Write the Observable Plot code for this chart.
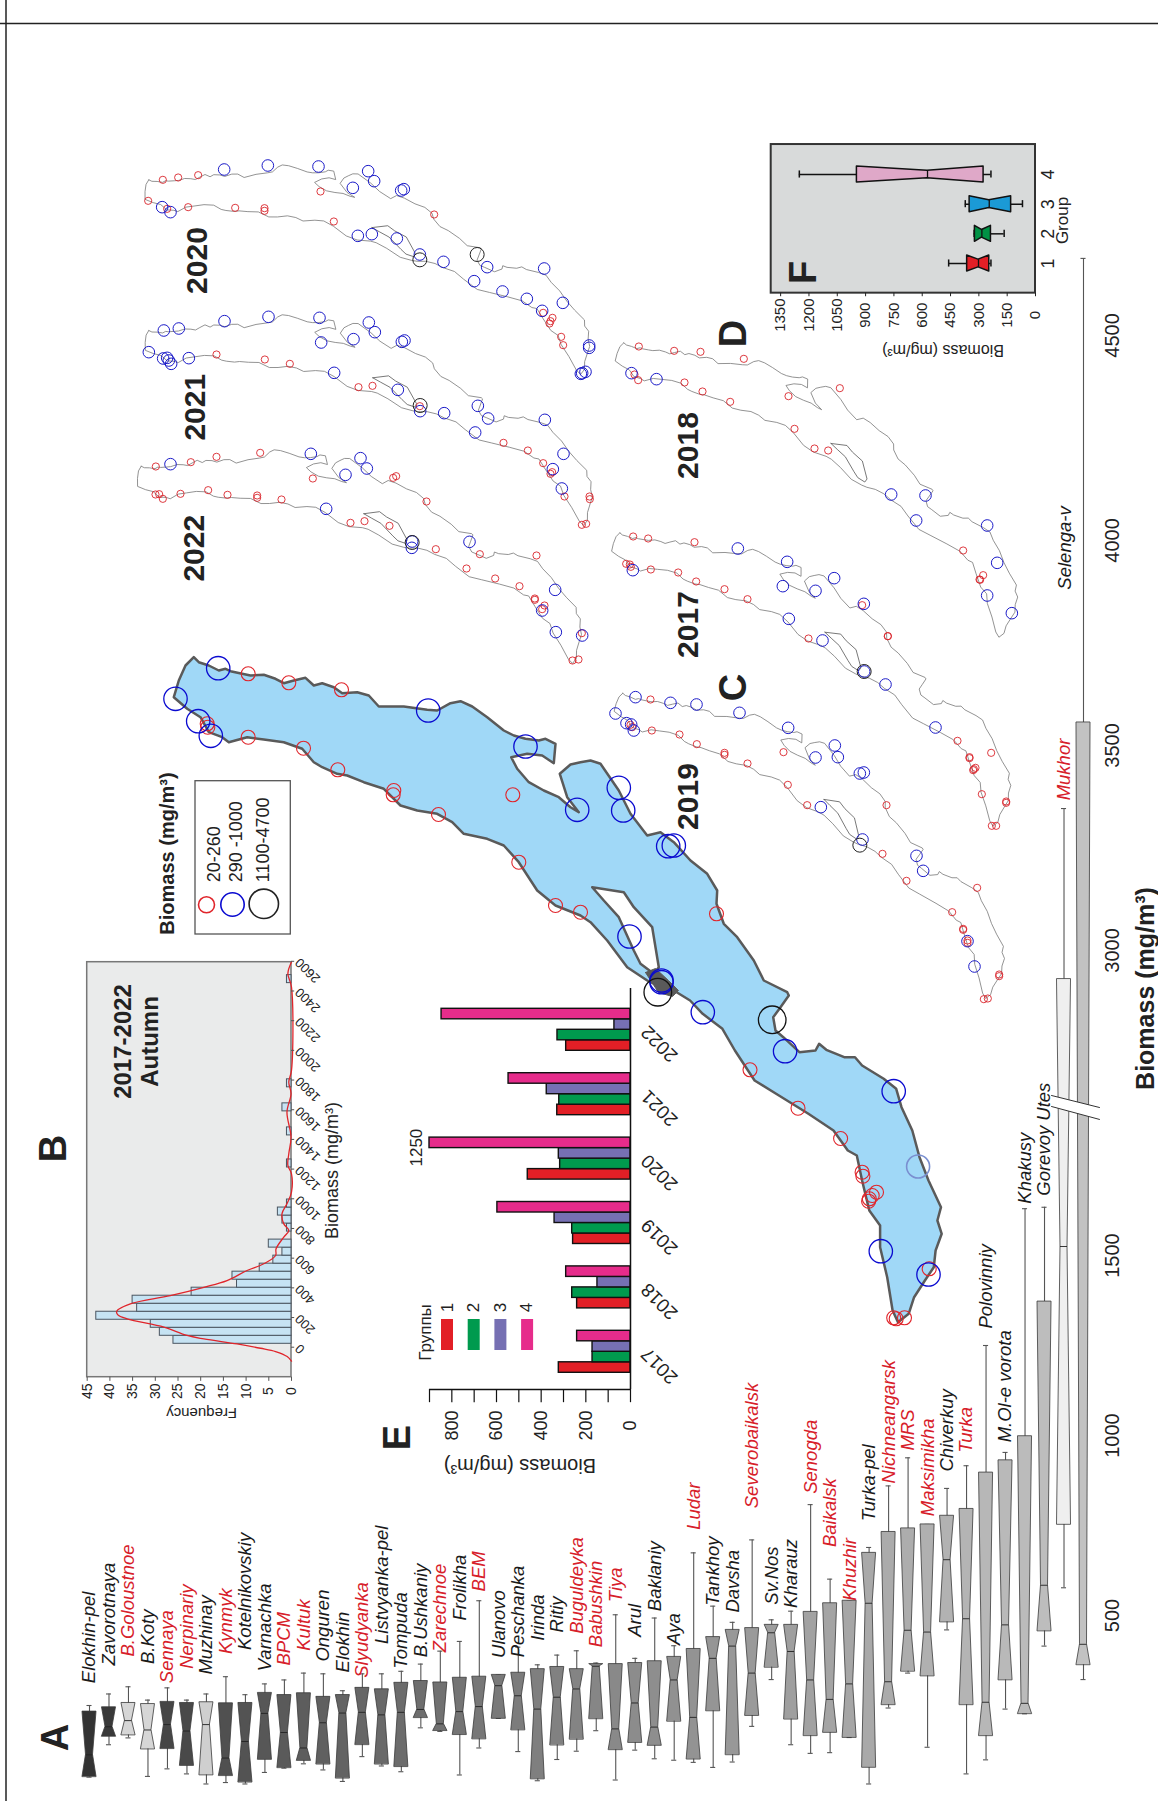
<!DOCTYPE html>
<html><head><meta charset="utf-8">
<script src="https://cdn.jsdelivr.net/npm/d3@7"></script>
<script src="https://cdn.jsdelivr.net/npm/@observablehq/plot@0.6"></script>
<style>html,body{margin:0;padding:0;background:#fff}#page{position:relative;width:1158px;height:1801px;overflow:hidden;background:#fff}#page svg{position:absolute;left:0;top:0;overflow:visible}</style>
</head><body><div id="page"></div>
<script>
// ---------- A: station boxplots ----------
const stations=["Elokhin-pel","Zavorotnaya","B.Goloustnoe","B.Koty","Sennaya","Nerpinariy","Muzhinay","Kynmyk","Kotelnikovskiy","Varnachka","BPCM","Kultuk","Onguren","Elokhin","Slyudyanka","Listvyanka-pel","Tompuda","B.Ushkaniy","Zarechnoe","Frolikha","BEM","Ulanovo","Peschanka","Irinda","Ritiy","Buguldeyka","Babushkin","Tiya","Arul","Baklaniy","Aya","Ludar","Tankhoy","Davsha","Severobaikalsk","Sv.Nos","Kharauz","Senogda","Baikalsk","Khuzhir","Turka-pel","Nichneangarsk","MRS","Maksimikha","Chiverkuy","Turka","Polovinniy","M.Ol-e vorota","Khakusy","Gorevoy Utes","Mukhor","Selenga-v"];
const whiskerHigh=[250,282,302,265,299,265,282,330,280,310,321,340,338,291,338,338,345,365,401,428,541,335,412,363,390,402,368,502,381,493,416,674,526,481,710,488,512,808,601,541,689,860,938,753,853,916,1250,953,1630,1634,3346,4688];
const q3=[233,245,257,254,260,257,259,256,257,285,279,284,274,279,299,295,313,318,314,327,330,335,341,351,357,351,365,365,368,373,385,407,440,460,465,474,474,510,534,541,674,732,742,753,777,796,897,931,998,1372,2930,3556];
const medians=[113,191,208,182,197,179,197,104,150,228,175,132,202,229,231,224,231,239,199,233,247,305,277,240,273,296,359,185,257,190,321,217,381,415,340,452,400,321,267,310,534,316,459,454,655,491,259,474,256,584,1525,420];
const q1=[52,164,168,129,130,83,57,55,37,100,77,97,87,48,141,87,80,216,180,169,157,214,182,46,140,156,213,127,147,139,206,101,235,113,222,356,212,166,175,161,78,252,345,332,482,252,166,321,227,457,753,363];
const whiskerLow=[51,141,160,53,74,60,32,36,32,64,76,88,71,39,108,82,66,188,178,57,132,214,122,41,100,123,180,43,126,102,98,92,78,93,192,322,141,117,119,161,32,243,340,134,460,60,99,240,227,415,577,322];
const labelAt=[312,361,386,365,312,352,336,393,404,345,361,402,372,342,327,421,352,384,398,486,567,382,384,430,453,449,412,537,441,512,418,738,527,508,798,530,521,838,690,541,762,867,958,776,900,952,1297,981,1644,1666,3366,3880];
const redStations=["B.Goloustnoe","Sennaya","Nerpinariy","Kynmyk","BPCM","Kultuk","Slyudyanka","Zarechnoe","BEM","Buguldeyka","Babushkin","Tiya","Ludar","Severobaikalsk","Senogda","Baikalsk","Khuzhir","Nichneangarsk","MRS","Maksimikha","Turka","Mukhor"];
const lightStations={"B.Goloustnoe":"#d6d6d6","B.Koty":"#d6d6d6","Muzhinay":"#cfcfcf","Mukhor":"#efefef"};
const biomassTicksA=[500,1000,1500,3000,3500,4000,4500];
const axisBreakDomain=[0,1880,2646,5000];

// ---------- B: histogram ----------
const binStart=23, binWidth=54;
const frequency=[26,29,31,43,34,35,22,12,13,7,4,2,5,0,1,2,3,1,0,0,0,0,1,0,0,0,1,0,0,2,0,0,1,0,0,0,0,0,0,0,0,0,0,0,0,1];
const kdeBiomass=[-94,-63,-29,-7,22,56,79,135,191,220,243,292,348,404,449,517,562,618,663,742,786,831,899,966,1045,1168,1225,1303,1416,1584,1708,1786,1865,2427,2517,2595];
const kdeFrequency=[0,.95,3.5,6.8,12,19.3,23,28.1,36.2,38.3,38.5,35.5,26.7,19.3,14.2,9.8,6.1,3.5,3.4,1.7,.6,1.7,2.1,1,0,0,.8,.6,.1,1,.1,.6,0,0,.8,0];
const freqTicks=[0,5,10,15,20,25,30,35,40,45];
const histBiomassTicks=[0,200,400,600,800,1000,1200,1400,1600,1800,2000,2200,2400,2600];

// ---------- E: yearly bars ----------
const years=[2017,2018,2019,2020,2021,2022];
const groupColors=["#e21f26","#009a4e","#7670b3","#e62c8b"];
const group1=[321,239,257,460,328,288];
const group2=[170,261,261,315,319,327];
const group3=[170,148,340,321,375,72];
const group4=[239,288,596,900,546,846];
const barTicks=[0,200,400,600,800];

// ---------- F: group boxplots ----------
const groupsF=[1,2,3,4];
const fColors=["#e21f26","#009245","#1b9ad6","#dfa8c8"];
const fHigh=[460,325,372,1251], fQ3=[362,321,349,946], fMed=[302,284,245,572], fQ1=[245,236,129,275], fLow=[236,166,69,236];
const fTicks=[0,150,300,450,600,750,900,1050,1200,1350];

// ---------- C/D: lake shoreline (map coordinates) ----------
const shoreX=[193.3,198.3,208.3,218.3,225,230,241.7,250,263.3,275,283.3,293.3,305,313.3,321.7,333.3,341.7,356.7,368.3,378.3,403.3,426.7,436.7,450,460,471.7,486.7,503.3,513.3,525,538.3,545,555,553.3,541.7,526.7,510.7,516.7,528.3,543.3,558.3,570,578.3,566.7,559.3,570,580,590,600,618.3,630,646.7,660,673.3,690,706.7,716.7,716,723.3,736.7,753.3,763.3,786.7,788.3,780,772.7,775,782.8,798.9,815,818.6,825.8,843.7,854.5,861.6,883.2,895.7,901,911.8,919,928,940.5,936.9,941.2,935.1,933.3,924.4,913.6,908.2,897.5,892.1,886.7,879.6,879.6,868.8,861.6,856.3,847.3,833,807.9,775.6,754.1,734.4,721.9,702.2,689.6,673.3,656.7,646.7,626.7,606.7,590,580,555,536.7,518.3,503.3,486.7,463.3,451.7,436.7,416.7,400,383.3,363.3,346.7,336.7,321.7,313.3,301.7,283.3,263.3,246.7,228.3,221.7,208.3,200,186.7,173.3,178.3,185,193.3];
const shoreY=[656.7,661.7,665,670,668.3,670.7,673.3,675,674.3,678.3,682.7,680,677.3,685,682.7,686.7,692.7,691.7,695,706,706,709.3,710,702.7,700.7,706,716.7,730,735,738.3,740,738.3,743.3,762.7,755,753.3,756.7,768.3,781.7,790,796.7,806.7,811.7,796.7,773.3,764,761.7,760,763.3,790,813.3,835,831.7,841.7,860,873.3,890,903.3,923.3,936.7,960,980,991.7,995,1006.7,1016.7,1030,1036.7,1051.7,1050,1043.3,1049.3,1056.7,1056.7,1065,1078.3,1088.3,1106.7,1130,1156.7,1180,1206.7,1220,1233.3,1250,1266.7,1280,1296.7,1313.3,1321.7,1310,1276.7,1246.7,1225,1210,1180,1155,1150,1130,1113.3,1093.3,1080,1050,1028.3,1013.3,1000,990,985,980,966.7,940,921.7,915,905,890,861.7,845,838.3,833.3,821.7,813.3,810,805,788.3,781.7,775,773.3,766.7,761.7,748.3,741.7,739,736.7,741.7,736.7,731.7,716.7,708.3,696.7,680,665,656.7];
const straitX=[591.7,623.3,633.3,651.7,658.3,653.3,640,633.3,618.3,603.3,591.7];
const straitY=[886.7,891.7,906.7,926.7,966.7,973.3,963.3,950,916.7,900,886.7];
const deltaX=[645,655,668,678,672,658,645];
const deltaY=[972,968,980,990,996,992,972];

const lakeRed=[[247.7,673.3],[288.3,682.3],[341,689.3],[247.7,736.7],[303,747.7],[337.3,769.3],[393.3,790],[392.7,794.3],[438,814],[518.3,861.7],[555,905],[580,911.7],[512.3,794.3],[206.7,723.3],[207.3,726.7],[716,913.3],[749.5,1069.3],[797.5,1107.7],[840.1,1138],[861.6,1171.7],[862.4,1175.7],[876,1191.7],[871.7,1195],[868.8,1198.3],[868.1,1200.7],[928.7,1268.3],[893.2,1317.3],[895.7,1318.3],[904,1317.3]];
const lakeBlue=[[217.7,667.7],[175,698.3],[197.7,720.7],[210.3,735.3],[427.7,710],[525,746],[576.7,809.3],[618.3,787.3],[622.7,810],[667.7,845.7],[673.3,845],[629,936],[661,981.7],[661,980],[702.3,1011.7],[784.6,1050.7],[893.2,1090.7],[880.3,1250.7],[928,1274]];
const lakeFaint=[[917.6,1166]];
const lakeBlack=[[657.3,991.7],[771.7,1019.3]];

// shoreline placement for the small yearly maps
const yearMaps=[
 {year:2020,tip:[148.3,179.3],m:[.4767,.1445,-.126,.426],at:[197.3,260]},
 {year:2021,tip:[148.3,330],m:[.4753,.1505,-.13,.4308],at:[195,406.7]},
 {year:2022,tip:[140.7,465.7],m:[.4743,.1464,-.1337,.4382],at:[194,547.7]},
 {year:2018,tip:[623.3,342.3],m:[.5001,.0345,-.0076,.4508],at:[687.7,445]},
 {year:2017,tip:[619.3,532.3],m:[.4915,.0406,-.0131,.455],at:[688.3,624]},
 {year:2019,tip:[622.3,692.7],m:[.489,.0277,.0041,.4547],at:[687.7,796]}
];

// stations on the yearly maps, read on three map sheets
const sheetTop={x0:120,y0:130,
 red:[[127,148],[173,141],[233,134],[83,211],[140,235],[203,230],[344,232],[432,233],[432,241],[640,273],[600,183],[941,252],[1268,547],[1296,562],[1290,572],[1287,579],[1322,619],[1328,644],
      [288,672],[433,687],[508,700],[714,770],[756,766],[1149,937],[1222,960],[1268,998],[1290,1030],[1295,1025],[1332,1098],[1407,1098],[1408,1106],[1384,1183],[1397,1180],[898,827],
      [106,1008],[211,995],[288,979],[419,967],[105,1092],[116,1091],[127,1105],[180,1090],[263,1079],[321,1093],[410,1095],[410,1102],[483,1107],[577,1044],[690,1177],[732,1172],[807,1186],[827,1037],[818,1042],[918,1113],[946,1256],[1078,1271],[1038,1314],[1124,1344],[1197,1367],[1243,1404],[1243,1408],[1272,1425],[1265,1436],[1248,1275],[1384,1508],[1356,1590],[1374,1587]],
 blue:[[311,117],[442,105],[594,108],[125,230],[150,245],[697,172],[743,122],[761,152],[850,176],[842,180],[712,316],[754,311],[829,324],[898,372],[969,394],[1061,452],[1100,410],[1271,414],[1146,483],[1219,505],[1265,541],[1327,517],[1406,645],[1406,652],[1381,730],[1395,724],[1385,728],
      [130,600],[175,594],[312,572],[444,559],[597,562],[85,665],[128,684],[140,682],[145,690],[152,700],[205,683],[602,636],[699,626],[745,576],[763,605],[852,630],[844,634],[641,727],[832,778],[899,842],[971,848],[1072,826],[1103,864],[1273,868],[1064,906],[1329,970],[1297,1016],[1324,1074],
      [150,1001],[571,970],[675,1033],[720,983],[739,1014],[617,1135],[875,1233],[874,1252],[1047,1234],[1304,1378],[1265,1440],[1306,1505],[1385,1515]],
 black:[[898,388],[1070,372],[899,825],[875,1236]]};
const sheetMid={x0:560,y0:130,
 red:[[235,648],[341,661],[420,664],[550,685],[233,749],[222,732],[372,756],[426,783],[509,814],[838,773],[684,797],[702,895],[762,954],[803,960],[1208,1260],[1268,1334],[1257,1347],[1259,1348],
      [218,1218],[263,1224],[402,1235],[197,1300],[208,1302],[211,1309],[271,1317],[353,1326],[407,1353],[492,1376],[561,1406],[744,1524],[905,1424],[982,1517]],
 blue:[[213,728],[288,746],[992,1092],[1095,1095],[1067,1170],[1280,1185],[1310,1297],[1280,1395],[1354,1448],
      [532,1254],[217,1319],[680,1294],[667,1367],[765,1381],[821,1343],[910,1420],[685,1465],[786,1530]],
 black:[]};
const sheetLow={x0:590,y0:540,
 red:[[892,287],[1101,601],[1202,637],[1137,650],[1137,653],[1155,682],[1150,686],[1148,689],[1174,761],[1247,783],[1247,787],[1204,856],[1217,856],
      [180,477],[184,570],[267,582],[319,611],[402,637],[402,643],[471,669],[579,635],[592,733],[650,794],[888,794],[876,940],[948,1021],[1085,1115],[1160,1042],[1118,1165],[1118,1168],[1131,1200],[1131,1207],[1226,1302],[1226,1307],[1180,1376],[1192,1374],[120,553],[125,560]],
 blue:[[821,393],[885,432],[1035,561],
      [135,470],[240,487],[318,492],[447,517],[75,519],[108,548],[122,552],[130,570],[593,562],[675,651],[733,615],[742,650],[808,699],[820,696],[691,800],[816,897],[978,946],[998,991],[1131,1202],[1152,1278]],
 black:[[821,393],[808,914]]};

// ---------- helpers ----------
const FONT='"Liberation Sans",Arial,sans-serif';
const W=1158,H=1801;
function add(x,y,marks){
  const svg=Plot.plot({width:W,height:H,margin:0,
    x:{...x,axis:null},y:{...y,axis:null},color:{type:"identity"},r:{type:"identity"},
    style:{background:"transparent",fontFamily:FONT},marks});
  document.getElementById("page").appendChild(svg);
}
const pageX={domain:[0,W],range:[0,W]},pageY={domain:[0,H],range:[0,H]};
const T=(text,x,y,o={})=>Plot.text([text],{x:()=>x,y:()=>y,text:d=>d,fill:"#222",...o});

// ---------- frame lines ----------
const letters=[["A",55.5,1737],["B",53,1148],["C",733,687],["D",733,333],["E",397,1437],["F",803,272]];
add(pageX,pageY,[
  Plot.ruleY([23],{x1:0,x2:W,stroke:"#222",strokeWidth:1.5}),
  Plot.ruleX([5.5],{y1:0,y2:H,stroke:"#222",strokeWidth:1.5})
]);

// ---------- panel A ----------
const rowsA=stations.map((name,i)=>({name,i,hi:whiskerHigh[i],q3:q3[i],med:medians[i],q1:q1[i],lo:whiskerLow[i],lab:labelAt[i],
  fill:lightStations[name]||d3.interpolateRgb("#333333","#c2c2c2")(Math.pow(i/51,.8))}));
const notchA=rowsA.flatMap(d=>[
  {name:d.name,v:d.q1,l:d.i-.36,r:d.i+.36,fill:d.fill},
  {name:d.name,v:d.med,l:d.i-.18,r:d.i+.18,fill:d.fill},
  {name:d.name,v:d.q3,l:d.i-.36,r:d.i+.36,fill:d.fill}]);
const breakTopX=[49.36,51.82],breakTopV=[2646,2250],breakLowX=[49.36,51.82],breakLowV=[2283,1878];
const breakBand=[[breakTopX[0],breakTopV[0]],[breakTopX[1],breakTopV[1]],[breakLowX[1],breakLowV[1]],[breakLowX[0],breakLowV[0]],[breakTopX[0],breakTopV[0]]];
const biomassToPixel=d3.scaleLinear().domain(axisBreakDomain).range([1795,1118.2,1095,130]);
add({domain:[0,51],range:[89,1083]},{transform:v=>biomassToPixel(v),domain:[0,H],range:[0,H]},[
  Plot.ruleX(rowsA,{x:"i",y1:"lo",y2:"hi",stroke:"#555",strokeWidth:1.1}),
  Plot.ruleY(rowsA,{y:"hi",x1:d=>d.i-.13,x2:d=>d.i+.13,stroke:"#555",strokeWidth:1.1}),
  Plot.ruleY(rowsA,{y:"lo",x1:d=>d.i-.13,x2:d=>d.i+.13,stroke:"#555",strokeWidth:1.1}),
  Plot.areaX(notchA,{y:"v",x1:"l",x2:"r",z:"name",fill:"fill",stroke:"#3a3a3a",strokeWidth:.8}),
  Plot.ruleY(rowsA,{y:"med",x1:d=>d.i-.18,x2:d=>d.i+.18,stroke:"#222",strokeWidth:.9}),
  Plot.line(breakBand,{x:d=>d[0],y:d=>d[1],fill:"#fff",stroke:"none"}),
  Plot.line(breakTopX.map((x,i)=>[x,breakTopV[i]]),{x:d=>d[0],y:d=>d[1],stroke:"#333",strokeWidth:1}),
  Plot.line(breakLowX.map((x,i)=>[x,breakLowV[i]]),{x:d=>d[0],y:d=>d[1],stroke:"#333",strokeWidth:1}),
  Plot.text(rowsA,{x:d=>d.name==="Selenga-v"?d.i-.95:d.i,y:"lab",text:"name",rotate:-90,textAnchor:"start",fontStyle:"italic",fontSize:18.5,fill:d=>redStations.includes(d.name)?"#d7202a":"#1a1a1a"}),
  Plot.text(biomassTicksA,{x:()=>51,y:d=>d,text:d=>String(d),rotate:-90,dx:29,fontSize:20,fill:"#222"}),
  T("Biomass (mg/m³)",51,2907,{rotate:-90,dx:62,fontSize:25,fontWeight:"bold"})
]);

// ---------- panel B ----------
const bars=frequency.map((f,i)=>({f,y1:binStart+i*binWidth,y2:binStart+(i+1)*binWidth})).filter(d=>d.f>0);
add({domain:[45,0],range:[86.7,291]},{domain:[-202,2594],range:[1376.7,961.7]},[
  Plot.rect([0],{x1:()=>45,x2:()=>0,y1:()=>-202,y2:()=>2594,fill:"#eaebeb",stroke:"#777",strokeWidth:1.5}),
  Plot.rect(bars,{x1:()=>0,x2:"f",y1:"y1",y2:"y2",fill:"#c6e3f3",stroke:"#4a5560",strokeWidth:1}),
  Plot.line(kdeFrequency.map((f,i)=>[f,kdeBiomass[i]]),{x:d=>d[0],y:d=>d[1],stroke:"#e0252b",strokeWidth:1.3,curve:"catmull-rom"}),
  Plot.ruleX(freqTicks,{x:d=>d,y1:()=>-202,y2:()=>-230,stroke:"#555"}),
  Plot.text(freqTicks,{x:d=>d,y:()=>-202,text:d=>String(d),rotate:-90,dy:14,fontSize:14,fill:"#222"}),
  Plot.ruleY(histBiomassTicks,{y:d=>d,x1:()=>0,x2:()=>-.7,stroke:"#555"}),
  Plot.text(histBiomassTicks,{x:()=>0,y:d=>d,text:d=>String(d),rotate:-135,textAnchor:"end",dx:6,dy:-1,fontSize:13,fill:"#222"}),
  T("2017-2022",37,2060,{rotate:-90,fontSize:24,fontWeight:"bold"}),
  T("Autumn",31,2060,{rotate:-90,fontSize:24,fontWeight:"bold"}),
  T("Biomass (mg/m³)",0,1190,{rotate:-90,dx:41,fontSize:18}),
  T("Frequency",19.8,-202,{rotate:180,dy:36,fontSize:15})
]);

// ---------- panel E ----------
const rowsE=years.flatMap((year,i)=>[group1,group2,group3,group4].map((g,k)=>({v:g[i],y1:year+(k-2)*.163,y2:year+(k-1)*.163,fill:groupColors[k]})));
const minorE=d3.range(0,901,100);
const legendE=groupColors.map((fill,k)=>({fill,k}));
add({domain:[0,900],range:[630,429]},{domain:[2017,2022],range:[1351.3,1029.3]},[
  Plot.rect(rowsE,{x1:()=>0,x2:"v",y1:"y1",y2:"y2",fill:"fill",stroke:"#111",strokeWidth:1.4}),
  Plot.ruleX([0],{y1:()=>2016.415,y2:()=>2022.64,stroke:"#111",strokeWidth:1.5}),
  Plot.ruleY([2016.415],{x1:()=>0,x2:()=>900,stroke:"#111",strokeWidth:1.5}),
  Plot.ruleX(minorE,{x:d=>d,y1:()=>2016.415,y2:()=>2016.21,stroke:"#111",strokeWidth:1.2}),
  Plot.text(barTicks,{x:d=>d,y:()=>2016.415,text:d=>String(d),rotate:-90,dy:36,fontSize:18,fill:"#222"}),
  Plot.text(years,{x:()=>0,y:d=>d,text:d=>String(d),rotate:-135,textAnchor:"end",dx:14,dy:-1,fontSize:19,fill:"#222"}),
  T("1250",958,2020,{rotate:-90,fontSize:17,dy:-11}),
  T("Biomass (mg/m³)",495,2016.415,{rotate:180,dy:76,fontSize:20}),
  T("Группы",918,2017.3,{rotate:-90,fontSize:17,textAnchor:"middle"})
]);
add(pageX,pageY,[
  Plot.rect(legendE,{x1:d=>441+d.k*26.7,x2:d=>453+d.k*26.7,y1:()=>1319,y2:()=>1350,fill:"fill"}),
  Plot.text(legendE,{x:d=>447+d.k*26.5,y:()=>1307,text:d=>String(d.k+1),rotate:-90,fontSize:17,fill:"#222"})
]);

// ---------- panel F ----------
const rowsF=groupsF.map((g,i)=>({g,hi:fHigh[i],q3:fQ3[i],med:fMed[i],q1:fQ1[i],lo:fLow[i],fill:fColors[i]}));
const notchF=rowsF.flatMap(d=>[
  {g:d.g,v:d.q1,t:d.g-.27,b:d.g+.27,fill:d.fill},
  {g:d.g,v:d.med,t:d.g-.13,b:d.g+.13,fill:d.fill},
  {g:d.g,v:d.q3,t:d.g-.27,b:d.g+.27,fill:d.fill}]);
add({domain:[0,1400],range:[1035,770.7]},{domain:[1,4],range:[263,174]},[
  Plot.rect([0],{x1:()=>0,x2:()=>1400,y1:()=>.0,y2:()=>5.01,fill:"#d8dada",stroke:"#333",strokeWidth:2}),
  Plot.ruleY(rowsF,{y:"g",x1:"lo",x2:"hi",stroke:"#111",strokeWidth:1.5}),
  Plot.ruleX(rowsF,{x:"hi",y1:d=>d.g-.12,y2:d=>d.g+.12,stroke:"#111",strokeWidth:1.5}),
  Plot.ruleX(rowsF,{x:"lo",y1:d=>d.g-.12,y2:d=>d.g+.12,stroke:"#111",strokeWidth:1.5}),
  Plot.areaY(notchF,{x:"v",y1:"t",y2:"b",z:"g",fill:"fill",stroke:"#111",strokeWidth:1.5}),
  Plot.ruleX(rowsF,{x:"med",y1:d=>d.g-.13,y2:d=>d.g+.13,stroke:"#111",strokeWidth:1.3}),
  Plot.ruleX(fTicks,{x:d=>d,y1:()=>0,y2:()=>-.12,stroke:"#222",strokeWidth:1}),
  Plot.text(fTicks,{x:d=>d,y:()=>0,text:d=>String(d),rotate:-90,dy:22,fontSize:15,fill:"#222"}),
  Plot.text(groupsF,{x:()=>0,y:d=>d,text:d=>String(d),rotate:-90,dx:13,fontSize:18,fill:"#222"}),
  T("Group",0,2.45,{rotate:-90,dx:27,fontSize:17}),
  T("Biomass (mg/m³)",490,0,{rotate:180,dy:57,fontSize:16})
]);

// ---------- panel C: the lake ----------
const shore=shoreX.map((x,i)=>({x,y:shoreY[i]}));
const strait=straitX.map((x,i)=>({x,y:straitY[i]}));
const delta=deltaX.map((x,i)=>({x,y:deltaY[i]}));
const legendCircles=[[206,904.3,8,"#e0252b"],[232,904,11.7,"#0a0ad0"],[263.3,903.3,14.7,"#222"]];
const legendText=[["20-260",214],["290 -1000",235.7],["1100-4700",262.3]];
const xy={x:"x",y:"y"},ptx={x:d=>d[0],y:d=>d[1]};
add(pageX,pageY,[
  Plot.line(shore,{...xy,fill:"#a0d8f7",stroke:"#5a5a5a",strokeWidth:2.5}),
  Plot.line(strait,{...xy,fill:"#fff",stroke:"#5a5a5a",strokeWidth:2.5}),
  Plot.line(delta,{...xy,fill:"#5a5a5a",stroke:"#5a5a5a",strokeWidth:1}),
  Plot.dot(lakeRed,{...ptx,r:7,stroke:"#e0252b",strokeWidth:1.1}),
  Plot.dot(lakeFaint,{...ptx,r:11.5,stroke:"#7a8fd0",strokeWidth:1.6}),
  Plot.dot(lakeBlue,{...ptx,r:11.7,stroke:"#0a0ad0",strokeWidth:1.3}),
  Plot.dot(lakeBlack,{...ptx,r:13.8,stroke:"#111",strokeWidth:1.3}),
  Plot.rect([0],{x1:()=>195,x2:()=>290.3,y1:()=>780.7,y2:()=>934,fill:"#fff",stroke:"#555",strokeWidth:1.3}),
  Plot.dot(legendCircles,{...ptx,r:d=>d[2],stroke:d=>d[3],strokeWidth:1.6}),
  Plot.text(legendText,{x:d=>d[1],y:()=>881.7,text:d=>d[0],rotate:-90,textAnchor:"start",fontSize:18,fill:"#222"}),
  T("Biomass (mg/m³)",166.7,853,{rotate:-90,fontSize:20,fontWeight:"bold"})
]);

// ---------- panel D: yearly maps ----------
const place=(pts,p)=>pts.map(d=>({x:p.tip[0]+p.m[0]*(d.x-193.3)+p.m[1]*(d.y-656.7),y:p.tip[1]+p.m[2]*(d.x-193.3)+p.m[3]*(d.y-656.7),year:p.year}));
add(pageX,pageY,yearMaps.flatMap(p=>[
  Plot.line(place(shore,p),{...xy,stroke:"#777",strokeWidth:.8}),
  Plot.line(place(strait,p),{...xy,stroke:"#555",strokeWidth:.8})
]));
for(const s of [sheetTop,sheetMid,sheetLow]){
  add({domain:[0,3],range:[s.x0,s.x0+1]},{domain:[0,3],range:[s.y0,s.y0+1]},[
    Plot.dot(s.red,{...ptx,r:3.6,stroke:"#d9252b",strokeWidth:.9}),
    Plot.dot(s.blue,{...ptx,r:5.8,stroke:"#1a1ac8",strokeWidth:1}),
    Plot.dot(s.black,{...ptx,r:7,stroke:"#222",strokeWidth:1})
  ]);
}
// panel letters and map years on top of everything
add(pageX,pageY,[
  Plot.text(letters,{x:d=>d[1],y:d=>d[2],text:d=>d[0],rotate:-90,fontSize:38,fontWeight:"bold",fill:"#222"}),
  Plot.text(yearMaps,{x:d=>d.at[0],y:d=>d.at[1],text:d=>String(d.year),rotate:-90,fontSize:30,fontWeight:"bold",fill:"#222"})
]);
</script></body></html>
